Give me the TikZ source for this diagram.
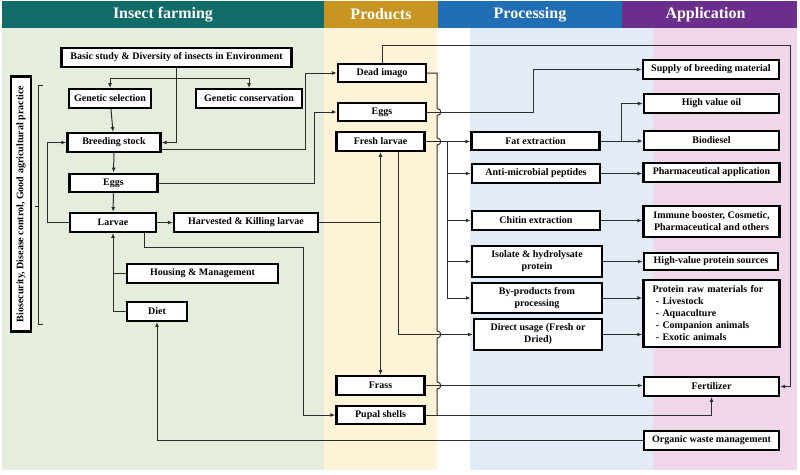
\documentclass[tikz,border=0pt]{standalone}
\usepackage{fontspec}
\setmainfont{Liberation Serif}
\usetikzlibrary{arrows.meta,calc}
\definecolor{hteal}{RGB}{16,108,104}
\definecolor{hgold}{RGB}{200,150,32}
\definecolor{hblue}{RGB}{32,110,180}
\definecolor{hpurple}{RGB}{108,46,140}
\definecolor{bggreen}{RGB}{229,237,220}
\definecolor{bgyellow}{RGB}{253,243,214}
\definecolor{bgblue}{RGB}{226,235,246}
\definecolor{bgpink}{RGB}{240,214,233}
\definecolor{linec}{RGB}{45,45,45}
\begin{document}
\begin{tikzpicture}[x=1pt,y=-1pt,
  box/.style={draw=black, line width=2.4pt, fill=white, font=\fontsize{10}{12}\selectfont\bfseries, align=center, inner sep=1pt},
  conn/.style={draw=linec, line width=1pt},
  arr/.style={conn, -{Latex[length=5pt,width=4pt]}},
  hdr/.style={font=\fontsize{16}{18}\selectfont\bfseries, text=white, inner sep=0pt, minimum height=27pt}]
\useasboundingbox (0,0) rectangle (800,474);
% backgrounds
\fill[bggreen] (2,28) rectangle (324,470);
\fill[bgyellow] (324,28) rectangle (437,470);
\fill[bgblue] (470,28) rectangle (653,470);
\fill[bgpink] (653,28) rectangle (797,470);
% headers
\node[hdr, fill=hteal, minimum width=322pt] (h1) at (163,14.5) {Insect farming};
\node[hdr, fill=hgold, minimum width=114pt] (h2) at (381,14.5) {Products};
\node[hdr, fill=hblue, minimum width=184pt] (h3) at (530,14.5) {Processing};
\node[hdr, fill=hpurple, minimum width=175pt] (h4) at (709.5,14.5) {\hspace*{-8pt}Application};
% insect farming nodes
\node[box, minimum width=230pt, minimum height=18.5pt] (basic) at (176.5,57.5) {Basic study \& Diversity of insects in Environment};
\node[box, minimum width=82pt, minimum height=18.5pt] (gsel) at (110,98.5) {Genetic selection};
\node[box, minimum width=106pt, minimum height=18.5pt] (gcon) at (249,98.5) {Genetic conservation};
\node[box, minimum width=93pt, minimum height=18.5pt] (breed) at (114,142.5) {Breeding stock};
\node[box, minimum width=88pt, minimum height=18.5pt] (eggsL) at (113.5,183) {Eggs};
\node[box, minimum width=86pt, minimum height=18.5pt] (larvae) at (113,222.5) {Larvae};
\node[box, minimum width=144pt, minimum height=18.5pt] (harv) at (246,222.5) {Harvested \& Killing larvae};
\node[box, minimum width=151pt, minimum height=18.5pt] (housing) at (202.5,273.5) {Housing \& Management};
\node[box, minimum width=60pt, minimum height=18.5pt] (diet) at (157,311.5) {Diet};
\node[box, rotate=90, minimum width=255pt, minimum height=19.5pt] (side) at (21,204) {Biosecurity, Disease control, Good agricultural practice};
% products
\node[box, minimum width=88pt, minimum height=18.5pt] (dead) at (382,73) {Dead imago};
\node[box, minimum width=88pt, minimum height=18pt] (eggsP) at (382,112) {Eggs};
\node[box, minimum width=88pt, minimum height=18.5pt] (fresh) at (380.5,141.5) {Fresh larvae};
\node[box, minimum width=88pt, minimum height=18.5pt] (frass) at (380.5,385.5) {Frass};
\node[box, minimum width=88pt, minimum height=18.5pt] (pupal) at (380.5,415) {Pupal shells};
% processing
\node[box, minimum width=128pt, minimum height=18.5pt] (fat) at (535.5,141) {Fat extraction};
\node[box, minimum width=128pt, minimum height=18.5pt] (anti) at (536,173.5) {Anti-microbial peptides};
\node[box, minimum width=128pt, minimum height=18.5pt] (chitin) at (536,220.5) {Chitin extraction};
\node[box, minimum width=130pt, minimum height=31pt] (isolate) at (537,261.5) {Isolate \& hydrolysate\\protein};
\node[box, minimum width=130pt, minimum height=30pt] (byprod) at (537,298) {By-products from\\processing};
\node[box, minimum width=128pt, minimum height=30.5pt] (direct) at (538,334.5) {Direct usage (Fresh or\\Dried)};
% application
\node[box, minimum width=136pt, minimum height=18.5pt] (supply) at (711,69.5) {Supply of breeding material};
\node[box, minimum width=135pt, minimum height=18.5pt] (oil) at (711.5,103.5) {High value oil};
\node[box, minimum width=135pt, minimum height=18.5pt] (bio) at (711.5,140.5) {Biodiesel};
\node[box, minimum width=136pt, minimum height=18.5pt] (pharma) at (711.5,172.5) {Pharmaceutical application};
\node[box, minimum width=136pt, minimum height=30.5pt] (immune) at (711.5,221.5) {Immune booster, Cosmetic,\\Pharmaceutical and others};
\node[box, minimum width=134pt, minimum height=17.5pt] (hvp) at (711,261.5) {High-value protein sources};
\node[box, text width=118pt, inner xsep=9pt, align=left, minimum height=66.5pt] (protein) at (711.5,313.5) {Protein raw materials for\\\ - Livestock\\\ - Aquaculture\\\ - Companion animals\\\ - Exotic animals};
\node[box, minimum width=135pt, minimum height=18.5pt] (fert) at (711.5,386.5) {Fertilizer};
\node[box, minimum width=135pt, minimum height=18.5pt] (owm) at (711.5,440.5) {Organic waste management};
% bracket
\draw[conn, line width=0.8pt] (43,85) -- (38.5,85) -- (38.5,324) -- (43,324);
\draw[conn, line width=0.8pt] (38.5,206) -- (34.5,206);
% insect farming connectors
\draw[conn] (basic.south) -- ++(0,10.5) coordinate (bsplit);
\draw[arr] (bsplit) -| (gsel.north);
\draw[arr] (bsplit) -| (gcon.north);
\draw[arr] (bsplit) |- (breed.east);
\draw[arr] (gsel) -- (breed);
\draw[arr] (breed) -- (eggsL);
\draw[arr] (eggsL) -- (larvae);
\draw[arr] (larvae) -- (harv);
\draw[arr] (larvae.west) -- (47,222.5) |- (breed.west);
\draw[arr] (diet.west) -| (larvae.south);
\draw[conn] (housing.west) -- (housing.west -| larvae.south);
\draw[arr] ([xshift=31pt]larvae.south) -- ++(0,15) -| (303,415) -- (pupal.west);
\draw[arr] (owm.west) -| (diet.south);
% to products
\draw[arr] ([yshift=-7pt]breed.east) -| (305,73) -- (dead.west);
\draw[arr] (eggsL.east) -| (314,112) -- (eggsP.west);
\draw[arr] (harv.east) -| (fresh.south);
\draw[arr] (harv.east -| frass.north) -- (frass.north);
% dead imago connectors
\draw[arr] (dead.north) |- (790,45) |- (fert.east);
\draw[conn] (dead.east) -| (437,108.5)
  .. controls (442,108.5) and (442,115.5) .. (437,115.5)
  -- (437,138) .. controls (442,138) and (442,145) .. (437,145)
  -- (437,331) .. controls (442,331) and (442,338) .. (437,338)
  -- (437,382) .. controls (442,382) and (442,389) .. (437,389)
  -- (437,415);
% products to processing / application
\draw[arr] (eggsP.east) -| (533,69.5) -- (supply.west);
\draw[arr] (fresh.east) -- (fresh.east -| fat.west);
\coordinate (bus) at (447,141.5);
\draw[conn] (bus) -- (bus |- byprod.west);
\draw[arr] (bus |- anti.west) -- (anti.west);
\draw[arr] (bus |- chitin.west) -- (chitin.west);
\draw[arr] (bus |- isolate.west) -- (isolate.west);
\draw[arr] (bus |- byprod.west) -- (byprod.west);
\draw[arr] ([xshift=18pt]fresh.south) |- (direct.west);
\draw[arr] (frass.east) -- (frass.east -| fert.west);
\draw[arr] (pupal.east) -| (fert.south);
% processing to application
\draw[arr] (fat.east) -- (fat.east -| bio.west);
\draw[arr] (621,141) |- (oil.west);
\draw[arr] (anti.east) -- (anti.east -| pharma.west);
\draw[arr] (chitin.east) -- (chitin.east -| immune.west);
\draw[arr] (isolate.east) -- (isolate.east -| hvp.west);
\draw[arr] (byprod.east) -- (byprod.east -| protein.west);
\draw[arr] (direct.east) -- (direct.east -| protein.west);
\end{tikzpicture}
\end{document}
